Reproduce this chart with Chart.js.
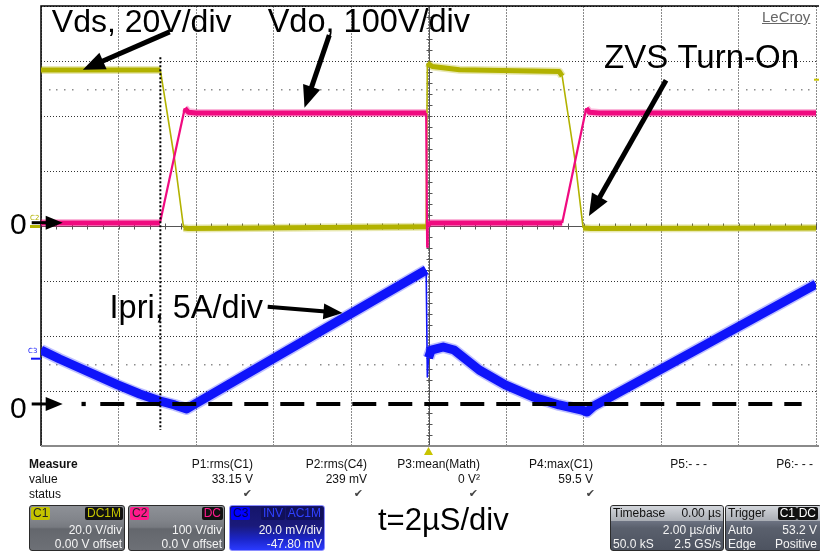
<!DOCTYPE html>
<html>
<head>
<meta charset="utf-8">
<title>ZVS turn-on scope capture</title>
<script src="https://cdn.jsdelivr.net/npm/chart.js@4.4.1/dist/chart.umd.min.js"></script>
<style>
  html, body { margin: 0; padding: 0; background: #fff; }
  #wrap { position: relative; width: 820px; height: 552px; overflow: hidden; font-family: "Liberation Sans", Arial, sans-serif; }
  #scope { position: absolute; left: 0; top: 0; }
  .m { position: absolute; font-size: 12px; line-height: 14px; color: #111; white-space: nowrap; }
  .m.b { font-weight: bold; }
  .ck { position: absolute; font-family: "DejaVu Sans", sans-serif; font-size: 11px; line-height: 14px; color: #444; }
  .lecroy { position: absolute; left: 762px; top: 8px; font-size: 15px; line-height: 17px; color: #666; text-decoration: underline; }
  .big { position: absolute; left: 378px; top: 504px; font-size: 31px; line-height: 31px; color: #000; white-space: nowrap; }
  .box { position: absolute; top: 505px; height: 46px; box-sizing: border-box; border: 1px solid #2b2b2b; border-radius: 3px; overflow: hidden;
         background: linear-gradient(#8e9197 0%, #82858b 30%, #777a80 48%, #64676d 52%, #6d7076 100%); color: #f4f4f4; font-size: 12px; }
  .box .bd { position: absolute; top: 1px; height: 13px; line-height: 13px; padding: 0 2px; border-radius: 2px; }
  .box .r { position: absolute; right: 2px; line-height: 14px; white-space: nowrap; }
  .box .lft { position: absolute; left: 2px; line-height: 14px; white-space: nowrap; }
  .box .hd { position: absolute; left: 0; right: 0; top: 0; height: 15px; background: linear-gradient(#d3d6db, #a9adb4); color: #111; }
  .box.dk { background: linear-gradient(#5f6573 0%, #6c7281 35%, #5a606d 50%, #4d5360 100%); }
  .box.c3 { border-color: #8a8cff; background: linear-gradient(#15156a 0%, #1a1a7a 45%, #1b25c8 75%, #2a3aff 100%); }
</style>
</head>
<body>
<div id="wrap">
  <canvas id="scope" width="820" height="552"></canvas>
  <div class="lecroy">LeCroy</div>

  <div class="m b" style="left:29px;top:457px">Measure</div>
  <div class="m" style="left:29px;top:472px">value</div>
  <div class="m" style="left:29px;top:487px">status</div>

  <div class="m" style="right:567px;top:457px">P1:rms(C1)</div>
  <div class="m" style="right:453px;top:457px">P2:rms(C4)</div>
  <div class="m" style="right:340px;top:457px">P3:mean(Math)</div>
  <div class="m" style="right:227px;top:457px">P4:max(C1)</div>
  <div class="m" style="right:113px;top:457px">P5:- - -</div>
  <div class="m" style="right:7px;top:457px">P6:- - -</div>

  <div class="m" style="right:567px;top:472px">33.15 V</div>
  <div class="m" style="right:453px;top:472px">239 mV</div>
  <div class="m" style="right:340px;top:472px">0 V²</div>
  <div class="m" style="right:227px;top:472px">59.5 V</div>

  <div class="ck" style="right:568px;top:487px">✔</div>
  <div class="ck" style="right:457px;top:487px">✔</div>
  <div class="ck" style="right:342px;top:487px">✔</div>
  <div class="ck" style="right:225px;top:487px">✔</div>

  <div class="box" style="left:29px;width:96px">
    <span class="bd" style="left:1px;background:#c4c400;color:#222">C1</span>
    <span class="bd" style="right:1px;background:#111;color:#c4c400">DC1M</span>
    <div class="r" style="top:17px">20.0 V/div</div>
    <div class="r" style="top:31px">0.00 V offset</div>
  </div>
  <div class="box" style="left:128px;width:97px">
    <span class="bd" style="left:1px;background:#ff1a8c;color:#222">C2</span>
    <span class="bd" style="right:1px;background:#111;color:#ff1a8c">DC</span>
    <div class="r" style="top:17px">100 V/div</div>
    <div class="r" style="top:31px">0.0 V offset</div>
  </div>
  <div class="box c3" style="left:229px;width:96px">
    <span class="bd" style="left:1px;background:#0000ff;color:#000050">C3</span>
    <span class="bd" style="right:39px;background:#10105a;color:#3040ff">INV</span>
    <span class="bd" style="right:1px;background:#10105a;color:#3040ff">AC1M</span>
    <div class="r" style="top:17px">20.0 mV/div</div>
    <div class="r" style="top:31px">-47.80 mV</div>
  </div>

  <div class="big">t=2µS/div</div>

  <div class="box dk" style="left:610px;width:114px">
    <div class="hd"></div>
    <div class="lft" style="top:0px;color:#111">Timebase</div>
    <div class="r" style="top:0px;color:#111">0.00 µs</div>
    <div class="r" style="top:17px">2.00 µs/div</div>
    <div class="lft" style="top:31px">50.0 kS</div>
    <div class="r" style="top:31px">2.5 GS/s</div>
  </div>
  <div class="box dk" style="left:725px;width:97px">
    <div class="hd"></div>
    <div class="lft" style="top:0px;color:#111">Trigger</div>
    <span class="bd" style="right:24px;background:#111;color:#fff">C1</span>
    <span class="bd" style="right:3px;background:#111;color:#fff">DC</span>
    <div class="lft" style="top:17px">Auto</div>
    <div class="r" style="top:17px;right:4px">53.2 V</div>
    <div class="lft" style="top:31px">Edge</div>
    <div class="r" style="top:31px;right:4px">Positive</div>
  </div>
</div>

<script>
// time axis in microseconds, 2 us/div, trigger at t = 0
const vdsTime  = [-10, -6.92, -6.55, -6.32, -6.2, -0.06, -0.03, 0.1, 0.8, 3.37, 3.45, 3.78, 3.99, 4.2, 10];
const vdsVolts = [56.7, 56.7, 24.0, -0.7, -0.9, -0.3, 59.3, 58.0, 56.8, 56.2, 54.5, 24.0, -0.7, -0.9, -0.7];

const vdoTime  = [-10, -6.93, -6.29, -6.2, -6.0, -0.06, -0.035, -0.02, 0.05, 3.45, 4.07, 4.15, 4.4, 10];
const vdoVolts = [5.5, 5.5, 214, 207, 205.5, 205.5, -38, 2, 5.5, 5.5, 214, 207, 205.5, 205.5];

const ipriTime = [-10, -9.52, -9.0, -8.02, -7.45, -6.93, -6.55, -6.24, -6.11, -0.06, -0.03, 0.0, 0.07, 0.38, 0.66, 1.31, 1.98, 2.70, 3.37, 3.96, 4.09, 4.27, 10];
const ipriAmps = [4.91, 4.09, 3.27, 1.73, 0.91, 0.27, -0.09, -0.45, -0.18, 12.18, 2.45, 4.2, 4.9, 5.18, 4.91, 3.09, 1.73, 0.64, -0.09, -0.55, -0.73, -0.18, 10.9];

const cursorTime = -6.92;          // dotted cursor
const cursorSpan = [3.07, -3.71];  // in divisions
const ipriZeroSpan = [-8.47, 9.63];
const ipriZeroDot = -8.9;
const triggerLevel = 53.2;         // V on C1

// channel scales: 8 vertical divisions
const vdsRange = [-80, 80];        // 20 V/div
const vdoRange = [-400, 400];      // 100 V/div
const ipriRange = [-3.82, 36.18];  // 5 A/div, offset

const yellow = 'rgb(178,178,0)';
const pink = 'rgb(240,10,128)';
const blue = 'rgb(15,20,250)';

const toPts = (ts, vs) => ts.map((t, i) => ({ x: t, y: vs[i] }));
const steep = c => Math.abs(c.p1.y - c.p0.y) > 3 * Math.abs(c.p1.x - c.p0.x);

function trace(label, pts, axis, color, halo, core, wide, thin, order) {
  return [
    {
      label: label, data: pts, yAxisID: axis, borderColor: color, borderWidth: core, order: order,
      segment: { borderWidth: c => steep(c) ? thin : core }
    },
    {
      label: label + ' band', data: pts, yAxisID: axis, borderColor: halo, borderWidth: wide, order: order + 0.5,
      segment: { borderColor: c => steep(c) ? 'rgba(0,0,0,0)' : halo }
    }
  ];
}

const annotations = [
  { text: 'Vds, 20V/div', t: -9.72, d: 3.53, size: 32 },
  { text: 'Vdo, 100V/div', t: -4.15, d: 3.53, size: 32.5 },
  { text: 'ZVS Turn-On', t: 4.53, d: 2.87, size: 33 },
  { text: 'Ipri, 5A/div', t: -8.23, d: -1.67, size: 32.5 },
  { text: '0', t: -10.8, d: -0.145, size: 30 },
  { text: '0', t: -10.8, d: -3.49, size: 30 }
];
const arrows = [
  { from: [-6.68, 3.53], to: [-8.92, 2.84], w: 5, head: 22, half: 9 },
  { from: [-2.56, 3.47], to: [-3.20, 2.15], w: 5, head: 22, half: 9 },
  { from: [6.13, 2.65], to: [4.14, 0.18], w: 5, head: 22, half: 9 },
  { from: [-4.15, -1.47], to: [-2.22, -1.58], w: 4, head: 19, half: 8 },
  { from: [-10.24, 0.06], to: [-9.44, 0.06], w: 3, head: 17, half: 7 },
  { from: [-10.24, -3.236], to: [-9.44, -3.236], w: 3, head: 17, half: 7 }
];

function drawArrow(ctx, x1, y1, x2, y2, w, head, half) {
  const ang = Math.atan2(y2 - y1, x2 - x1);
  const bx = x2 - head * Math.cos(ang), by = y2 - head * Math.sin(ang);
  ctx.lineWidth = w;
  ctx.beginPath();
  ctx.moveTo(x1, y1);
  ctx.lineTo(bx + 2 * Math.cos(ang), by + 2 * Math.sin(ang));
  ctx.stroke();
  ctx.beginPath();
  ctx.moveTo(x2, y2);
  ctx.lineTo(bx + half * Math.sin(ang), by - half * Math.cos(ang));
  ctx.lineTo(bx - half * Math.sin(ang), by + half * Math.cos(ang));
  ctx.closePath();
  ctx.fill();
}

const scopeDecor = {
  id: 'scopeDecor',
  beforeDatasetsDraw(chart) {
    const { ctx, chartArea: a, scales: { x, y } } = chart;
    ctx.save();
    // faint dotted rows
    ctx.fillStyle = '#8c8c8c';
    [2.5, -2.5].forEach(row => {
      const py = Math.round(y.getPixelForValue(row));
      for (let k = -50; k <= 50; k++) {
        if (k % 5 === 0) continue;
        ctx.fillRect(Math.round(x.getPixelForValue(k * 0.2)), py, 1.5, 1.5);
      }
    });
    // centre crosshair with minor ticks
    const cx = Math.round(x.getPixelForValue(0)) + 0.5;
    const cy = Math.round(y.getPixelForValue(0)) + 0.5;
    ctx.strokeStyle = '#555';
    ctx.lineWidth = 1;
    ctx.beginPath();
    ctx.moveTo(cx, a.top); ctx.lineTo(cx, a.bottom);
    ctx.moveTo(a.left, cy); ctx.lineTo(a.right, cy);
    for (let k = -20; k <= 20; k++) {
      const py = Math.round(y.getPixelForValue(k * 0.2)) + 0.5;
      ctx.moveTo(cx - 3, py); ctx.lineTo(cx + 3, py);
    }
    for (let k = -25; k <= 25; k++) {
      const px = Math.round(x.getPixelForValue(k * 0.4)) + 0.5;
      ctx.moveTo(px, cy - 3); ctx.lineTo(px, cy + 3);
    }
    ctx.stroke();
    // frame
    ctx.strokeStyle = '#000';
    ctx.lineWidth = 1.5;
    ctx.beginPath();
    ctx.moveTo(a.left, a.bottom); ctx.lineTo(a.left, a.top); ctx.lineTo(a.right + 3, a.top);
    ctx.stroke();
    ctx.strokeStyle = '#8a8a8a';
    ctx.lineWidth = 2;
    ctx.beginPath();
    ctx.moveTo(a.left, a.bottom); ctx.lineTo(a.right + 3, a.bottom);
    ctx.stroke();
    ctx.restore();
  },
  afterDraw(chart) {
    const { ctx, chartArea: a, scales: { x, y, yVds, yIpri } } = chart;
    ctx.save();
    // channel markers at the left edge
    const y0 = y.getPixelForValue(0);
    ctx.fillStyle = yellow;
    ctx.fillRect(a.left - 11, y0 - 1, 10, 3);
    ctx.font = '7px "DejaVu Sans", sans-serif';
    ctx.textBaseline = 'alphabetic';
    ctx.fillText('C2', a.left - 11, y0 - 6);
    ctx.fillStyle = blue;
    const yc3 = yIpri.getPixelForValue(4.3);
    ctx.fillText('C3', a.left - 13, yc3 - 4);
    ctx.fillRect(a.left - 10, yc3 + 1, 10, 2);
    // trigger position and level markers
    const tx = x.getPixelForValue(0);
    ctx.fillStyle = 'rgb(200,196,0)';
    ctx.beginPath();
    ctx.moveTo(tx, a.bottom + 1); ctx.lineTo(tx + 4.5, a.bottom + 9); ctx.lineTo(tx - 4.5, a.bottom + 9);
    ctx.closePath(); ctx.fill();
    const ty = yVds.getPixelForValue(triggerLevel);
    ctx.fillRect(a.right - 2, ty - 1, 5, 2);
    // annotation text and arrows
    ctx.fillStyle = '#000';
    ctx.strokeStyle = '#000';
    ctx.lineCap = 'butt';
    annotations.forEach(n => {
      ctx.font = n.size + 'px "Liberation Sans", Arial, sans-serif';
      ctx.fillText(n.text, x.getPixelForValue(n.t), y.getPixelForValue(n.d));
    });
    arrows.forEach(r => {
      drawArrow(ctx,
        x.getPixelForValue(r.from[0]), y.getPixelForValue(r.from[1]),
        x.getPixelForValue(r.to[0]), y.getPixelForValue(r.to[1]),
        r.w, r.head, r.half);
    });
    ctx.restore();
  }
};

const datasets = [
  {
    label: 'cursor', yAxisID: 'y', order: 0,
    data: [{ x: cursorTime, y: cursorSpan[0] }, { x: cursorTime, y: cursorSpan[1] }],
    borderColor: '#000', borderWidth: 2, borderDash: [2, 2]
  },
  {
    label: 'Ipri zero', yAxisID: 'yIpri', order: 0,
    data: [{ x: ipriZeroSpan[0], y: 0 }, { x: ipriZeroSpan[1], y: 0 }],
    borderColor: '#000', borderWidth: 4, borderDash: [24, 12]
  },
  {
    label: 'Ipri zero dot', yAxisID: 'yIpri', order: 0, showLine: false,
    data: [{ x: ipriZeroDot, y: 0 }],
    pointRadius: 3, pointStyle: 'rect', pointBackgroundColor: '#000', pointBorderWidth: 0
  },
  ...trace('Ipri', toPts(ipriTime, ipriAmps), 'yIpri', blue, 'rgba(20,30,255,0.28)', 9, 12, 1.6, 1),
  ...trace('Vdo', toPts(vdoTime, vdoVolts), 'yVdo', pink, 'rgba(240,10,128,0.3)', 5, 8, 2.2, 3),
  ...trace('Vds', toPts(vdsTime, vdsVolts), 'yVds', yellow, 'rgba(178,178,0,0.3)', 5, 8, 1.6, 5)
];

const ctx = document.getElementById('scope').getContext('2d');

new Chart(ctx, {
  type: 'line',
  data: { datasets: datasets },
  options: {
    responsive: false,
    animation: false,
    events: [],
    layout: { padding: { left: 41, top: 6, right: 3, bottom: 106 } },
    plugins: { legend: { display: false }, tooltip: { enabled: false } },
    elements: {
      point: { radius: 0 },
      line: { tension: 0, borderJoinStyle: 'round', borderCapStyle: 'butt' }
    },
    scales: {
      x: {
        type: 'linear', min: -10, max: 10,
        ticks: { display: false, stepSize: 2 },
        grid: { color: '#8a8a8a', lineWidth: 1, drawTicks: false },
        border: { display: false, dash: [2, 1] }
      },
      y: {
        type: 'linear', min: -4, max: 4,
        ticks: { display: false, stepSize: 1 },
        grid: { color: '#333', lineWidth: 1, drawTicks: false },
        border: { display: false, dash: [1, 2] }
      },
      yVds: { display: false, min: vdsRange[0], max: vdsRange[1] },
      yVdo: { display: false, min: vdoRange[0], max: vdoRange[1] },
      yIpri: { display: false, min: ipriRange[0], max: ipriRange[1] }
    }
  },
  plugins: [scopeDecor]
});
</script>
</body>
</html>
